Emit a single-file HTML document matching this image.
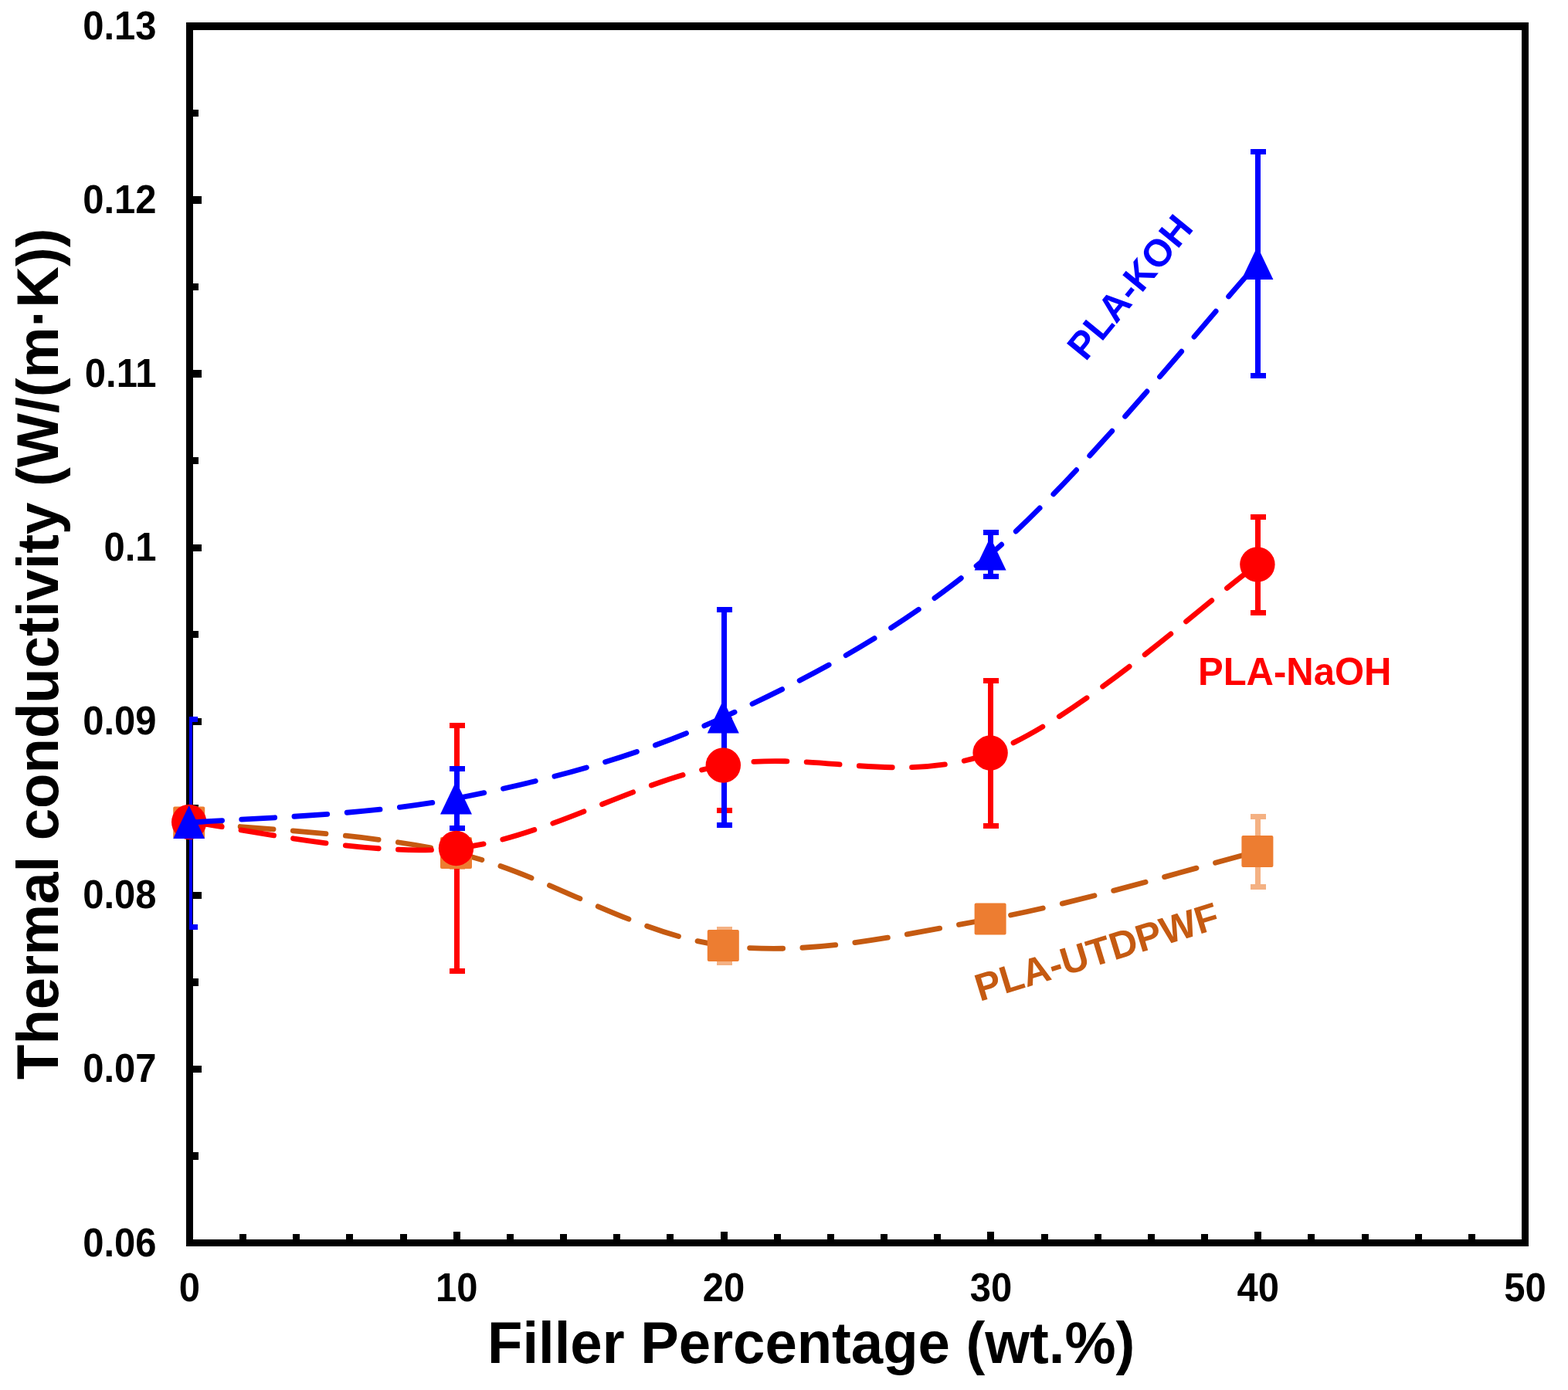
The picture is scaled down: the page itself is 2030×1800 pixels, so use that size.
<!DOCTYPE html>
<html><head><meta charset="utf-8"><title>Thermal conductivity vs filler percentage</title>
<style>html,body{margin:0;padding:0;background:#fff;}svg{display:block;}</style></head>
<body><svg width="2030" height="1800" viewBox="0 0 2030 1800">
<rect width="2030" height="1800" fill="#fff"/>
<g shape-rendering="crispEdges"><rect x="245.5" y="34" width="1729" height="1575.5" fill="none" stroke="#000" stroke-width="9.4" shape-rendering="crispEdges"/></g>
<line x1="245.5" y1="1609.50" x2="261" y2="1609.50" stroke="#000" stroke-width="9.4" shape-rendering="crispEdges"/><text transform="translate(202.5,1626.50) scale(0.961,1)" text-anchor="end" font-size="51" font-family="Liberation Sans, Arial, Helvetica, sans-serif" font-weight="bold">0.06</text><line x1="245.5" y1="1384.43" x2="261" y2="1384.43" stroke="#000" stroke-width="9.4" shape-rendering="crispEdges"/><text transform="translate(202.5,1401.43) scale(0.961,1)" text-anchor="end" font-size="51" font-family="Liberation Sans, Arial, Helvetica, sans-serif" font-weight="bold">0.07</text><line x1="245.5" y1="1159.36" x2="261" y2="1159.36" stroke="#000" stroke-width="9.4" shape-rendering="crispEdges"/><text transform="translate(202.5,1176.36) scale(0.961,1)" text-anchor="end" font-size="51" font-family="Liberation Sans, Arial, Helvetica, sans-serif" font-weight="bold">0.08</text><line x1="245.5" y1="934.29" x2="261" y2="934.29" stroke="#000" stroke-width="9.4" shape-rendering="crispEdges"/><text transform="translate(202.5,951.29) scale(0.961,1)" text-anchor="end" font-size="51" font-family="Liberation Sans, Arial, Helvetica, sans-serif" font-weight="bold">0.09</text><line x1="245.5" y1="709.22" x2="261" y2="709.22" stroke="#000" stroke-width="9.4" shape-rendering="crispEdges"/><text transform="translate(202.5,726.22) scale(0.961,1)" text-anchor="end" font-size="51" font-family="Liberation Sans, Arial, Helvetica, sans-serif" font-weight="bold">0.1</text><line x1="245.5" y1="484.15" x2="261" y2="484.15" stroke="#000" stroke-width="9.4" shape-rendering="crispEdges"/><text transform="translate(202.5,501.15) scale(0.961,1)" text-anchor="end" font-size="51" font-family="Liberation Sans, Arial, Helvetica, sans-serif" font-weight="bold">0.11</text><line x1="245.5" y1="259.08" x2="261" y2="259.08" stroke="#000" stroke-width="9.4" shape-rendering="crispEdges"/><text transform="translate(202.5,276.08) scale(0.961,1)" text-anchor="end" font-size="51" font-family="Liberation Sans, Arial, Helvetica, sans-serif" font-weight="bold">0.12</text><line x1="245.5" y1="34.01" x2="261" y2="34.01" stroke="#000" stroke-width="9.4" shape-rendering="crispEdges"/><text transform="translate(202.5,51.01) scale(0.961,1)" text-anchor="end" font-size="51" font-family="Liberation Sans, Arial, Helvetica, sans-serif" font-weight="bold">0.13</text><line x1="245.5" y1="1496.96" x2="257" y2="1496.96" stroke="#000" stroke-width="9.4" shape-rendering="crispEdges"/><line x1="245.5" y1="1271.89" x2="257" y2="1271.89" stroke="#000" stroke-width="9.4" shape-rendering="crispEdges"/><line x1="245.5" y1="1046.82" x2="257" y2="1046.82" stroke="#000" stroke-width="9.4" shape-rendering="crispEdges"/><line x1="245.5" y1="821.75" x2="257" y2="821.75" stroke="#000" stroke-width="9.4" shape-rendering="crispEdges"/><line x1="245.5" y1="596.68" x2="257" y2="596.68" stroke="#000" stroke-width="9.4" shape-rendering="crispEdges"/><line x1="245.5" y1="371.61" x2="257" y2="371.61" stroke="#000" stroke-width="9.4" shape-rendering="crispEdges"/><line x1="245.5" y1="146.54" x2="257" y2="146.54" stroke="#000" stroke-width="9.4" shape-rendering="crispEdges"/><line x1="245.50" y1="1609.5" x2="245.50" y2="1595" stroke="#000" stroke-width="9" shape-rendering="crispEdges"/><line x1="314.66" y1="1609.5" x2="314.66" y2="1598" stroke="#000" stroke-width="9" shape-rendering="crispEdges"/><line x1="383.82" y1="1609.5" x2="383.82" y2="1598" stroke="#000" stroke-width="9" shape-rendering="crispEdges"/><line x1="452.98" y1="1609.5" x2="452.98" y2="1598" stroke="#000" stroke-width="9" shape-rendering="crispEdges"/><line x1="522.14" y1="1609.5" x2="522.14" y2="1598" stroke="#000" stroke-width="9" shape-rendering="crispEdges"/><line x1="591.30" y1="1609.5" x2="591.30" y2="1595" stroke="#000" stroke-width="9" shape-rendering="crispEdges"/><line x1="660.46" y1="1609.5" x2="660.46" y2="1598" stroke="#000" stroke-width="9" shape-rendering="crispEdges"/><line x1="729.62" y1="1609.5" x2="729.62" y2="1598" stroke="#000" stroke-width="9" shape-rendering="crispEdges"/><line x1="798.78" y1="1609.5" x2="798.78" y2="1598" stroke="#000" stroke-width="9" shape-rendering="crispEdges"/><line x1="867.94" y1="1609.5" x2="867.94" y2="1598" stroke="#000" stroke-width="9" shape-rendering="crispEdges"/><line x1="937.10" y1="1609.5" x2="937.10" y2="1595" stroke="#000" stroke-width="9" shape-rendering="crispEdges"/><line x1="1006.26" y1="1609.5" x2="1006.26" y2="1598" stroke="#000" stroke-width="9" shape-rendering="crispEdges"/><line x1="1075.42" y1="1609.5" x2="1075.42" y2="1598" stroke="#000" stroke-width="9" shape-rendering="crispEdges"/><line x1="1144.58" y1="1609.5" x2="1144.58" y2="1598" stroke="#000" stroke-width="9" shape-rendering="crispEdges"/><line x1="1213.74" y1="1609.5" x2="1213.74" y2="1598" stroke="#000" stroke-width="9" shape-rendering="crispEdges"/><line x1="1282.90" y1="1609.5" x2="1282.90" y2="1595" stroke="#000" stroke-width="9" shape-rendering="crispEdges"/><line x1="1352.06" y1="1609.5" x2="1352.06" y2="1598" stroke="#000" stroke-width="9" shape-rendering="crispEdges"/><line x1="1421.22" y1="1609.5" x2="1421.22" y2="1598" stroke="#000" stroke-width="9" shape-rendering="crispEdges"/><line x1="1490.38" y1="1609.5" x2="1490.38" y2="1598" stroke="#000" stroke-width="9" shape-rendering="crispEdges"/><line x1="1559.54" y1="1609.5" x2="1559.54" y2="1598" stroke="#000" stroke-width="9" shape-rendering="crispEdges"/><line x1="1628.70" y1="1609.5" x2="1628.70" y2="1595" stroke="#000" stroke-width="9" shape-rendering="crispEdges"/><line x1="1697.86" y1="1609.5" x2="1697.86" y2="1598" stroke="#000" stroke-width="9" shape-rendering="crispEdges"/><line x1="1767.02" y1="1609.5" x2="1767.02" y2="1598" stroke="#000" stroke-width="9" shape-rendering="crispEdges"/><line x1="1836.18" y1="1609.5" x2="1836.18" y2="1598" stroke="#000" stroke-width="9" shape-rendering="crispEdges"/><line x1="1905.34" y1="1609.5" x2="1905.34" y2="1598" stroke="#000" stroke-width="9" shape-rendering="crispEdges"/><line x1="1974.50" y1="1609.5" x2="1974.50" y2="1595" stroke="#000" stroke-width="9" shape-rendering="crispEdges"/><text transform="translate(245.50,1685) scale(0.961,1)" text-anchor="middle" font-size="51" font-family="Liberation Sans, Arial, Helvetica, sans-serif" font-weight="bold">0</text><text transform="translate(591.30,1685) scale(0.961,1)" text-anchor="middle" font-size="51" font-family="Liberation Sans, Arial, Helvetica, sans-serif" font-weight="bold">10</text><text transform="translate(937.10,1685) scale(0.961,1)" text-anchor="middle" font-size="51" font-family="Liberation Sans, Arial, Helvetica, sans-serif" font-weight="bold">20</text><text transform="translate(1282.90,1685) scale(0.961,1)" text-anchor="middle" font-size="51" font-family="Liberation Sans, Arial, Helvetica, sans-serif" font-weight="bold">30</text><text transform="translate(1628.70,1685) scale(0.961,1)" text-anchor="middle" font-size="51" font-family="Liberation Sans, Arial, Helvetica, sans-serif" font-weight="bold">40</text><text transform="translate(1974.50,1685) scale(0.961,1)" text-anchor="middle" font-size="51" font-family="Liberation Sans, Arial, Helvetica, sans-serif" font-weight="bold">50</text>
<defs><clipPath id="pc"><rect x="245" y="34" width="1729.5" height="1575.5"/></clipPath></defs><g clip-path="url(#pc)" shape-rendering="crispEdges"><line x1="591.50" y1="1084.20" x2="591.50" y2="1122.80" stroke="#F4B183" stroke-width="7"/><line x1="581.50" y1="1084.20" x2="601.50" y2="1084.20" stroke="#F4B183" stroke-width="7"/><line x1="581.50" y1="1122.80" x2="601.50" y2="1122.80" stroke="#F4B183" stroke-width="7"/><line x1="937.50" y1="1203.50" x2="937.50" y2="1246.50" stroke="#F4B183" stroke-width="7"/><line x1="927.50" y1="1203.50" x2="947.50" y2="1203.50" stroke="#F4B183" stroke-width="7"/><line x1="927.50" y1="1246.50" x2="947.50" y2="1246.50" stroke="#F4B183" stroke-width="7"/><line x1="1628.50" y1="1057.50" x2="1628.50" y2="1148.40" stroke="#F4B183" stroke-width="7"/><line x1="1618.50" y1="1057.50" x2="1638.50" y2="1057.50" stroke="#F4B183" stroke-width="7"/><line x1="1618.50" y1="1148.40" x2="1638.50" y2="1148.40" stroke="#F4B183" stroke-width="7"/><line x1="591.50" y1="939.50" x2="591.50" y2="1257.50" stroke="#FF0000" stroke-width="7"/><line x1="581.50" y1="939.50" x2="601.50" y2="939.50" stroke="#FF0000" stroke-width="7"/><line x1="581.50" y1="1257.50" x2="601.50" y2="1257.50" stroke="#FF0000" stroke-width="7"/><line x1="937.50" y1="932.70" x2="937.50" y2="1049.30" stroke="#FF0000" stroke-width="7"/><line x1="927.50" y1="932.70" x2="947.50" y2="932.70" stroke="#FF0000" stroke-width="7"/><line x1="927.50" y1="1049.30" x2="947.50" y2="1049.30" stroke="#FF0000" stroke-width="7"/><line x1="1282.50" y1="881.30" x2="1282.50" y2="1069.50" stroke="#FF0000" stroke-width="7"/><line x1="1272.50" y1="881.30" x2="1292.50" y2="881.30" stroke="#FF0000" stroke-width="7"/><line x1="1272.50" y1="1069.50" x2="1292.50" y2="1069.50" stroke="#FF0000" stroke-width="7"/><line x1="1628.50" y1="669.50" x2="1628.50" y2="793.40" stroke="#FF0000" stroke-width="7"/><line x1="1618.50" y1="669.50" x2="1638.50" y2="669.50" stroke="#FF0000" stroke-width="7"/><line x1="1618.50" y1="793.40" x2="1638.50" y2="793.40" stroke="#FF0000" stroke-width="7"/><line x1="245.50" y1="931.30" x2="245.50" y2="1200.20" stroke="#0000FF" stroke-width="7"/><line x1="235.50" y1="931.30" x2="255.50" y2="931.30" stroke="#0000FF" stroke-width="7"/><line x1="235.50" y1="1200.20" x2="255.50" y2="1200.20" stroke="#0000FF" stroke-width="7"/><line x1="591.50" y1="995.50" x2="591.50" y2="1072.50" stroke="#0000FF" stroke-width="7"/><line x1="581.50" y1="995.50" x2="601.50" y2="995.50" stroke="#0000FF" stroke-width="7"/><line x1="581.50" y1="1072.50" x2="601.50" y2="1072.50" stroke="#0000FF" stroke-width="7"/><line x1="937.50" y1="789.50" x2="937.50" y2="1068.50" stroke="#0000FF" stroke-width="7"/><line x1="927.50" y1="789.50" x2="947.50" y2="789.50" stroke="#0000FF" stroke-width="7"/><line x1="927.50" y1="1068.50" x2="947.50" y2="1068.50" stroke="#0000FF" stroke-width="7"/><line x1="1282.50" y1="689.30" x2="1282.50" y2="746.50" stroke="#0000FF" stroke-width="7"/><line x1="1272.50" y1="689.30" x2="1292.50" y2="689.30" stroke="#0000FF" stroke-width="7"/><line x1="1272.50" y1="746.50" x2="1292.50" y2="746.50" stroke="#0000FF" stroke-width="7"/><line x1="1628.50" y1="196.30" x2="1628.50" y2="486.50" stroke="#0000FF" stroke-width="7"/><line x1="1618.50" y1="196.30" x2="1638.50" y2="196.30" stroke="#0000FF" stroke-width="7"/><line x1="1618.50" y1="486.50" x2="1638.50" y2="486.50" stroke="#0000FF" stroke-width="7"/></g><path d="M244.70,1065.00 C302.33,1071.58 475.23,1077.92 590.50,1104.50 C705.77,1131.08 821.03,1210.25 936.30,1224.50 C1051.57,1238.75 1166.83,1210.33 1282.10,1190.00 C1397.37,1169.67 1570.27,1117.08 1627.90,1102.50" fill="none" stroke="#C55A11" stroke-width="6.8" stroke-linecap="round" stroke-dasharray="43 25.3" stroke-dashoffset="1.5"/><rect x="224.20" y="1044.50" width="41" height="41" rx="2" fill="#ED7D31"/><rect x="570.00" y="1084.00" width="41" height="41" rx="2" fill="#ED7D31"/><rect x="915.80" y="1204.00" width="41" height="41" rx="2" fill="#ED7D31"/><rect x="1261.60" y="1169.50" width="41" height="41" rx="2" fill="#ED7D31"/><rect x="1607.40" y="1082.00" width="41" height="41" rx="2" fill="#ED7D31"/><path d="M244.70,1064.50 C302.33,1070.17 475.23,1110.75 590.50,1098.50 C705.77,1086.25 821.03,1011.58 936.30,991.00 C1051.57,970.42 1166.83,1018.33 1282.10,975.00 C1397.37,931.67 1570.27,771.67 1627.90,731.00" fill="none" stroke="#FF0000" stroke-width="6.8" stroke-linecap="round" stroke-dasharray="43 25.3" stroke-dashoffset="0"/><circle cx="244.70" cy="1064.50" r="22.7" fill="#FF0000"/><circle cx="590.50" cy="1098.50" r="22.7" fill="#FF0000"/><circle cx="936.30" cy="991.00" r="22.7" fill="#FF0000"/><circle cx="1282.10" cy="975.00" r="22.7" fill="#FF0000"/><circle cx="1627.90" cy="731.00" r="22.7" fill="#FF0000"/><path d="M244.70,1065.40 C302.33,1060.17 475.23,1056.73 590.50,1034.00 C705.77,1011.27 821.03,981.68 936.30,929.00 C1051.57,876.32 1166.83,815.83 1282.10,717.90 C1397.37,619.97 1570.27,404.15 1627.90,341.40" fill="none" stroke="#0000FF" stroke-width="6.8" stroke-linecap="round" stroke-dasharray="43 25.3" stroke-dashoffset="0"/><path d="M244.70,1042.90 L265.20,1085.90 L224.20,1085.90 Z" fill="#0000FF"/><path d="M590.50,1011.50 L611.00,1054.50 L570.00,1054.50 Z" fill="#0000FF"/><path d="M936.30,906.50 L956.80,949.50 L915.80,949.50 Z" fill="#0000FF"/><path d="M1282.10,695.40 L1302.60,738.40 L1261.60,738.40 Z" fill="#0000FF"/><path d="M1627.90,318.90 L1648.40,361.90 L1607.40,361.90 Z" fill="#0000FF"/>
<text transform="translate(1405.4,468.9) rotate(-50.7) scale(0.98,1)" font-size="50" fill="#0000FF" font-family="Liberation Sans, Arial, Helvetica, sans-serif" font-weight="bold">PLA-KOH</text><text transform="translate(1551,887) scale(0.98,1)" font-size="50" fill="#FF0000" font-family="Liberation Sans, Arial, Helvetica, sans-serif" font-weight="bold">PLA-NaOH</text><text transform="translate(1268.6,1296.9) rotate(-17) scale(0.99,1)" font-size="50" fill="#C55A11" font-family="Liberation Sans, Arial, Helvetica, sans-serif" font-weight="bold">PLA-UTDPWF</text>
<text transform="translate(75,846.8) rotate(-90) scale(0.978,1)" text-anchor="middle" font-size="76" font-family="Liberation Sans, Arial, Helvetica, sans-serif" font-weight="bold">Thermal conductivity (W/(m·K))</text>
<text transform="translate(631,1765) scale(0.978,1)" font-size="76" font-family="Liberation Sans, Arial, Helvetica, sans-serif" font-weight="bold">Filler Percentage (wt.%)</text>
</svg></body></html>
